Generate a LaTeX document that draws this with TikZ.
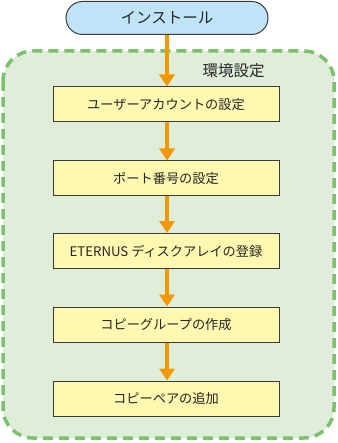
\documentclass[tikz,border=0pt]{standalone}
\usepackage{fontspec}
\setmainfont{Noto Sans CJK JP}
\usetikzlibrary{arrows.meta}
\definecolor{instfill}{HTML}{BFE4F8}
\definecolor{boxfill}{HTML}{FFF8B0}
\definecolor{grpfill}{HTML}{DFEDD9}
\definecolor{grpline}{HTML}{7CC16E}
\definecolor{arr}{HTML}{F39800}
\definecolor{edge}{HTML}{3A3A3A}
\tikzset{
  stepbox/.style={draw=edge, line width=1pt, fill=boxfill, minimum width=226pt, minimum height=35pt, inner sep=0pt, font=\fontsize{13.2}{15}\selectfont, text=black!85},
  flow/.style={draw=arr, line width=3.5pt, -{Triangle[width=15pt,length=12pt]}, shorten >=0pt},
}
\begin{document}
\begin{tikzpicture}[x=1pt,y=-1pt]
\useasboundingbox (0,0) rectangle (337,443);
\draw[grpline, fill=grpfill, line width=3.5pt, dash pattern=on 10pt off 6pt, rounded corners=30pt] (3,51) rectangle (334,438);
\node[font=\fontsize{15.5}{17}\selectfont, text=black!85] (lbl) at (233.5,71) {環境設定};
\node[draw=edge, line width=1pt, fill=instfill, rounded corners=16.5pt, minimum width=202pt, minimum height=33pt, inner sep=0pt, font=\fontsize{15.5}{17}\selectfont, text=black!85] (inst) at (167,18) {インストール};
\node[stepbox] (s1) at (166,104.5) {ユーザーアカウントの設定};
\node[stepbox] (s2) at (166,178.5) {ポート番号の設定};
\node[stepbox] (s3) at (166,251) {ETERNUS ディスクアレイの登録};
\node[stepbox] (s4) at (166,324.5) {コピーグループの作成};
\node[stepbox] (s5) at (166,398.5) {コピーペアの追加};
\draw[flow] (inst.south -| 167,0) -- (s1.north -| 167,0);
\draw[flow] (s1.south -| 167,0) -- (s2.north -| 167,0);
\draw[flow] (s2.south -| 167,0) -- (s3.north -| 167,0);
\draw[flow] (s3.south -| 167,0) -- (s4.north -| 167,0);
\draw[flow] (s4.south -| 167,0) -- (s5.north -| 167,0);
\end{tikzpicture}
\end{document}
